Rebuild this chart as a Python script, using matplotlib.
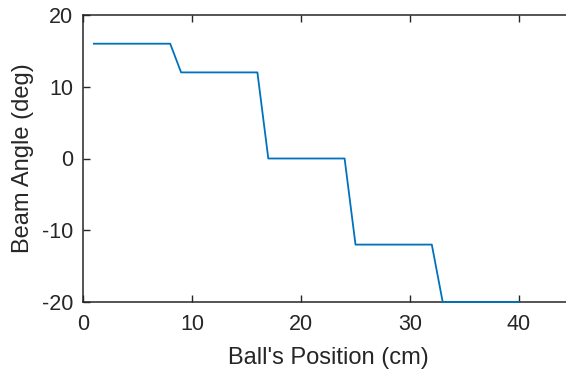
import matplotlib.pyplot as plt

# ball position (cm) vs beam angle (deg)
position = [1, 8, 9, 16, 17, 24, 25, 32, 33, 40]
angle = [16, 16, 12, 12, 0, 0, -12, -12, -20, -20]

xticks = [0, 10, 20, 30, 40]
yticks = [-20, -10, 0, 10, 20]

plt.rcParams['font.family'] = ['Liberation Sans', 'DejaVu Sans']
plt.rcParams['axes.unicode_minus'] = False

fig = plt.figure(figsize=(5.66, 3.76), dpi=100)
W, H = 566, 376
left, right, top, bottom = 83, 573.5, 15, 302
ax = fig.add_axes([left / W, 1 - bottom / H, (right - left) / W, (bottom - top) / H])

# drawn over the spines so the -20 segment shows on the bottom axis
ax.plot(position, angle, color='#0072BD', lw=1.3, zorder=3, clip_on=False)

ax.set_xlim(0, 45)
ax.set_ylim(-20, 20)
ax.set_xticks(xticks)
ax.set_yticks(yticks)
ax.tick_params(direction='in', top=True, right=False, length=5, width=1,
               colors='#262626', labelsize=15.5, labelcolor='#262626')
ax.tick_params(axis='x', pad=9)
ax.tick_params(axis='y', pad=7)
for s in ax.spines.values():
    s.set_color('#262626')
    s.set_linewidth(1.1)
ax.spines['right'].set_visible(False)

ax.set_xlabel("Ball's Position (cm)", fontsize=17, color='#262626', labelpad=8)
ax.set_ylabel("Beam Angle (deg)", fontsize=17, color='#262626', labelpad=6)

fig.savefig('out.png', dpi=100)
